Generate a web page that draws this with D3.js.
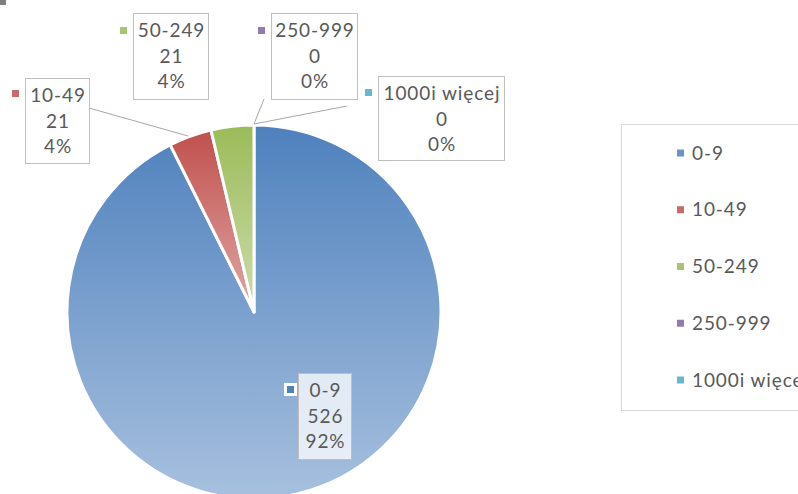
<!DOCTYPE html>
<html><head><meta charset="utf-8">
<script src="https://cdn.jsdelivr.net/npm/d3@7/dist/d3.min.js"></script>
<style>body{margin:0;background:#fff;overflow:hidden}svg{display:block}</style>
</head><body>
<svg id="c" width="798" height="494"></svg>
<script>
const categories = ["0-9", "10-49", "50-249", "250-999", "1000i więcej"];
const values = [526, 21, 21, 0, 0];
const pctLabels = ["92%", "4%", "4%", "0%", "0%"];
const colors = ["#4f81bd", "#c0504d", "#9bbb59", "#8064a2", "#4bacc6"];

const svg = d3.select("#c");
const font = "Lato, 'Open Sans', sans-serif";
const textCol = "#595959";
const ls = 0.9;
const cx = 254, cy = 312, R = 187;

svg.append("rect").attr("x",0).attr("y",0).attr("width",6).attr("height",5).attr("fill","#7f7f7f");

const defs = svg.append("defs");
colors.forEach((c,i)=>{
  const g = defs.append("linearGradient").attr("id","g"+i).attr("x1",0).attr("y1",0).attr("x2",0).attr("y2",1);
  g.append("stop").attr("offset","0%").attr("stop-color",c);
  g.append("stop").attr("offset","100%").attr("stop-color",d3.interpolateRgb(c,"#fff")(0.5));
});

const pie = d3.pie().sort(null).value(d=>d.v).startAngle(0).endAngle(2*Math.PI);
const data = pie(categories.map((c,i)=>({c, v: values[i], i})));
const arc = d3.arc().innerRadius(0).outerRadius(R);
const gp = svg.append("g").attr("transform",`translate(${cx},${cy})`);
gp.selectAll("path").data(data.filter(d=>d.data.v>0)).join("path")
  .attr("d",arc).attr("fill",d=>`url(#g${d.data.i})`)
  .attr("stroke","#fff").attr("stroke-width",3).attr("stroke-linejoin","round");

// leader lines
const leaders = [
  [[89,108],[188,136]],
  [[264,99],[254,124]],
  [[347,106],[254,124]]
];
svg.selectAll("line.ld").data(leaders).join("line").attr("class","ld")
  .attr("x1",d=>d[0][0]).attr("y1",d=>d[0][1]).attr("x2",d=>d[1][0]).attr("y2",d=>d[1][1])
  .attr("stroke","#a6a6a6").attr("stroke-width",1);

// data labels (layout)
const boxes = [
  {x:298,y:373,w:53,h:86,mx:284,my:383,fill:"rgba(255,255,255,0.75)"},
  {x:25,y:78,w:64,h:85,mx:12,my:90,fill:"#fff"},
  {x:133,y:13,w:75,h:86,mx:120,my:27,fill:"#fff"},
  {x:271,y:13,w:86,h:86,mx:258,my:27,fill:"#fff"},
  {x:378,y:76,w:126,h:84,mx:365,my:89,fill:"#fff"}
];
boxes.forEach((b,i)=>{
  const g = svg.append("g");
  g.append("rect").attr("x",b.x+0.5).attr("y",b.y+0.5).attr("width",b.w).attr("height",b.h)
    .attr("fill",b.fill).attr("stroke","#bfbfbf");
  if(i===0){
    g.append("rect").attr("x",b.mx+1.5).attr("y",b.my+1.5).attr("width",10).attr("height",10)
      .attr("fill",colors[i]).attr("stroke","#fff").attr("stroke-width",3);
  } else {
    g.append("rect").attr("x",b.mx).attr("y",b.my).attr("width",7).attr("height",7)
      .attr("fill",d3.interpolateRgb(colors[i],"#fff")(0.15));
  }
  const lines = [categories[i], String(values[i]), pctLabels[i]];
  g.selectAll("text").data(lines).join("text")
    .attr("x",b.x+b.w/2+1).attr("y",(d,k)=>b.y+17.5+k*25.5).attr("dy","0.35em")
    .attr("text-anchor","middle").attr("font-family",font).attr("font-size",19)
    .attr("letter-spacing",ls).attr("fill",textCol).text(d=>d);
});

// legend
svg.append("rect").attr("x",621.5).attr("y",124.5).attr("width",200).attr("height",286)
  .attr("fill","#fff").attr("stroke","#d9d9d9");
const ly = d3.scalePoint().domain(categories).range([153,380]);
const lg = svg.selectAll("g.lg").data(categories).join("g").attr("class","lg")
  .attr("transform",d=>`translate(677,${ly(d)})`);
lg.append("rect").attr("x",0).attr("y",-3.5).attr("width",7).attr("height",7)
  .attr("fill",(d,i)=>d3.interpolateRgb(colors[i],"#fff")(0.15));
lg.append("text").attr("x",15).attr("y",0).attr("dy","0.35em")
  .attr("font-family",font).attr("font-size",19).attr("letter-spacing",ls)
  .attr("fill",textCol).text(d=>d);
</script>
</body></html>
